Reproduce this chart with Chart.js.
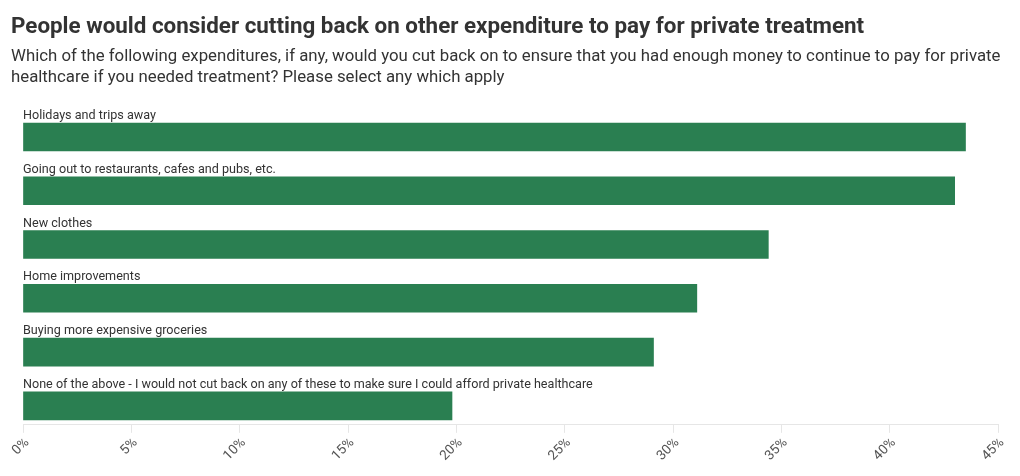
<!DOCTYPE html>
<html>
<head>
<meta charset="utf-8">
<script src="https://cdn.jsdelivr.net/npm/chart.js@4/dist/chart.umd.min.js"></script>
<style>
  html, body { margin: 0; padding: 0; background: #fff; }
  #wrap { position: relative; width: 1020px; height: 476px; overflow: hidden; font-family: Roboto, "Noto Sans", sans-serif; }
  #title { position: absolute; left: 11px; top: 12px; font-size: 22.4px; line-height: 26px; font-weight: 700; color: #333; white-space: nowrap; }
  #subtitle { position: absolute; left: 11px; top: 45px; font-size: 16.8px; line-height: 20.5px; color: #333; white-space: nowrap; }
  #chart { position: absolute; left: 0; top: 0; }
</style>
</head>
<body>
<div id="wrap">
  <canvas id="chart" width="1020" height="476"></canvas>
  <div id="title">People would consider cutting back on other expenditure to pay for private treatment</div>
  <div id="subtitle">Which of the following expenditures, if any, would you cut back on to ensure that you had enough money to continue to pay for private<br>healthcare if you needed treatment? Please select any which apply</div>
</div>
<script>
"use strict";

// Chart data
var _categories = [
  'Holidays and trips away',
  'Going out to restaurants, cafes and pubs, etc.',
  'New clothes',
  'Home improvements',
  'Buying more expensive groceries',
  'None of the above - I would not cut back on any of these to make sure I could afford private healthcare'
];
var _values = [43.5, 43.0, 34.4, 31.1, 29.1, 19.8];
var _xTicks = [0, 5, 10, 15, 20, 25, 30, 35, 40, 45];

var _barColor = '#2a7f51';

// one point per category, y is the category index
var _points = _values.map(function(_v, _i) { return { x: _v, y: _i }; });

// draws the category label just above each bar
var _barLabels = {
  id: 'barLabels',
  afterDatasetsDraw: function(_chart) {
    var _ctx = _chart.ctx;
    var _meta = _chart.getDatasetMeta(0);
    _ctx.save();
    _ctx.font = '12.6px Roboto, "Noto Sans", sans-serif';
    _ctx.fillStyle = '#333';
    _ctx.textAlign = 'left';
    _ctx.textBaseline = 'alphabetic';
    _meta.data.forEach(function(_bar, _i) {
      var _top = _bar.y - _bar.height / 2;
      _ctx.fillText(_categories[_i], _chart.chartArea.left, _top - 4);
    });
    _ctx.restore();
  }
}; // EndOf _barLabels

new Chart(document.getElementById('chart'), {
  type: 'bar',
  data: {
    datasets: [{
      data: _points,
      backgroundColor: _barColor,
      borderWidth: 0,
      barThickness: 28
    }]
  },
  options: {
    indexAxis: 'y',
    responsive: false,
    animation: false,
    layout: { padding: { left: 23, right: 22, top: 101, bottom: 10 } },
    plugins: {
      legend: { display: false },
      tooltip: { enabled: false }
    },
    scales: {
      y: {
        type: 'linear',
        reverse: true,
        offset: false,   // bar defaults turn this on for the index axis
        grid: { offset: false },
        bounds: 'data',
        display: false,
        min: -0.669,
        max: 5.353
      },
      x: {
        type: 'linear',
        min: _xTicks[0],
        max: _xTicks[_xTicks.length - 1],
        afterBuildTicks: function(_axis) {
          _axis.ticks = _xTicks.map(function(_t) { return { value: _t }; });
        },
        grid: {
          drawOnChartArea: false,
          drawTicks: true,
          tickLength: 8,
          color: '#e6e6e6'
        },
        border: { display: true, color: '#e6e6e6' },
        ticks: {
          minRotation: 45,
          maxRotation: 45,
          padding: 2,
          labelOffset: 4,
          color: '#555',
          font: { family: 'Roboto, "Noto Sans", sans-serif', size: 13.5 },
          callback: function(_v) { return _v + '%'; }
        }
      }
    }
  },
  plugins: [_barLabels]
});
</script>
</body>
</html>
